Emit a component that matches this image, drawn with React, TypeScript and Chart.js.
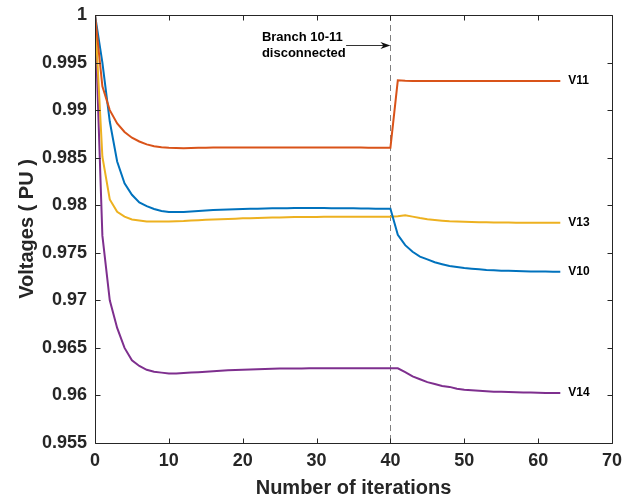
import React, { useEffect, useRef } from "react";
import { Chart, registerables } from "chart.js";

Chart.register(...registerables);

// ---------------- data ----------------
const iterations = [
  0, 1, 2, 3, 4, 5, 6, 7, 8, 9, 10, 11, 12, 13, 14, 15, 16, 17, 18, 19, 20,
  21, 22, 23, 24, 25, 26, 27, 28, 29, 30, 31, 32, 33, 34, 35, 36, 37, 38, 39,
  40, 41, 42, 43, 44, 45, 46, 47, 48, 49, 50, 51, 52, 53, 54, 55, 56, 57, 58,
  59, 60, 61, 62, 63,
];

const v11 = [
  1.0, 0.9925, 0.99, 0.9886, 0.9877, 0.9871, 0.9867, 0.9864, 0.9862, 0.9861,
  0.98605, 0.98602, 0.986, 0.98602, 0.98604, 0.98605, 0.98606, 0.98607, 0.98607,
  0.98608, 0.98608, 0.98608, 0.98608, 0.98608, 0.98608, 0.98608, 0.98608,
  0.98608, 0.98608, 0.98607, 0.98607, 0.98607, 0.98607, 0.98606, 0.98606,
  0.98606, 0.98606, 0.98605, 0.98605, 0.98605, 0.98605, 0.99313, 0.99308,
  0.99307, 0.99307, 0.99307, 0.99307, 0.99307, 0.99307, 0.99307, 0.99307,
  0.99307, 0.99307, 0.99307, 0.99307, 0.99307, 0.99307, 0.99307, 0.99307,
  0.99307, 0.99307, 0.99307, 0.99307, 0.99307,
];

const v10 = [
  1.0, 0.995, 0.9888, 0.9846, 0.9823, 0.9811, 0.9803, 0.9799, 0.9796, 0.9794,
  0.9793, 0.9793, 0.9793, 0.97935, 0.9794, 0.97945, 0.9795, 0.97952, 0.97955,
  0.97958, 0.9796, 0.97962, 0.97964, 0.97966, 0.97967, 0.97968, 0.97969,
  0.9797, 0.9797, 0.9797, 0.9797, 0.9797, 0.97969, 0.97968, 0.97968, 0.97967,
  0.97966, 0.97965, 0.97964, 0.97964, 0.97963, 0.9769, 0.9758, 0.9751,
  0.9746, 0.9743, 0.974, 0.9738, 0.9736, 0.9735, 0.9734, 0.97333, 0.97326,
  0.9732, 0.97316, 0.97312, 0.9731, 0.97308, 0.97306, 0.97304, 0.97303,
  0.97302, 0.97301, 0.97301,
];

const v13 = [
  1.0, 0.9851, 0.9806, 0.9793, 0.9788, 0.9785, 0.9784, 0.9783, 0.9783,
  0.9783, 0.9783, 0.97832, 0.97835, 0.9784, 0.97843, 0.97846, 0.9785,
  0.97853, 0.97856, 0.97859, 0.97862, 0.97864, 0.97866, 0.97868, 0.9787,
  0.97872, 0.97874, 0.97875, 0.97876, 0.97877, 0.97877, 0.97878, 0.97878,
  0.97879, 0.97879, 0.97879, 0.97879, 0.9788, 0.9788, 0.9788, 0.9788,
  0.97885, 0.97895, 0.9788, 0.97865, 0.97852, 0.97844, 0.97837, 0.97831,
  0.97828, 0.97825, 0.97823, 0.97821, 0.9782, 0.97819, 0.97818, 0.97818,
  0.97817, 0.97817, 0.97817, 0.97816, 0.97816, 0.97816, 0.97816,
];

const v14 = [
  1.0, 0.9768, 0.97, 0.9671, 0.965, 0.9637, 0.9631, 0.9627, 0.9625, 0.9624,
  0.9623, 0.9623, 0.96235, 0.9624, 0.96245, 0.9625, 0.96255, 0.9626, 0.96265,
  0.96268, 0.9627, 0.96272, 0.96275, 0.96278, 0.9628, 0.96282, 0.96283,
  0.96284, 0.96284, 0.96285, 0.96285, 0.96285, 0.96286, 0.96286, 0.96286,
  0.96286, 0.96286, 0.96286, 0.96285, 0.96285, 0.96285, 0.96285, 0.96245,
  0.962, 0.9617, 0.9614, 0.9612, 0.961, 0.9609, 0.9607, 0.9606, 0.96055,
  0.9605, 0.96045, 0.9604, 0.96038, 0.96035, 0.96033, 0.96031, 0.9603,
  0.96028, 0.96027, 0.96026, 0.96026,
];

const seriesNames = ["V11", "V10", "V13", "V14"];
const seriesColors = ["#D95319", "#0072BD", "#EDB120", "#7E2F8E"];
const seriesValues = [v11, v10, v13, v14];

const xTicks = [0, 10, 20, 30, 40, 50, 60, 70];
const yTicks = [1, 0.995, 0.99, 0.985, 0.98, 0.975, 0.97, 0.965, 0.96, 0.955];

const disconnectIteration = 40;
const annotationLines = ["Branch 10-11", "disconnected"];
// annotation placement (data units)
const annotationX = 22.6;
const annotationY = [0.99763, 0.99600];
const arrowStartX = 34;
const arrowY = 0.99686;

const FONT = "'Liberation Sans', Arial, Helvetica, sans-serif";
const AXIS_COLOR = "#262626";

const overlayPlugin = {
  id: "overlay",
  beforeDatasetsDraw(chart: any) {
    const { ctx, chartArea, scales } = chart;
    const x = scales.x;
    const px = Math.round(x.getPixelForValue(disconnectIteration)) + 0.5;
    ctx.save();
    ctx.strokeStyle = "#808080";
    ctx.lineWidth = 1;
    ctx.setLineDash([6, 4]);
    ctx.beginPath();
    ctx.moveTo(px, chartArea.top);
    ctx.lineTo(px, chartArea.bottom);
    ctx.stroke();
    ctx.restore();
  },
  afterDraw(chart: any) {
    const { ctx, chartArea, scales } = chart;
    const x = scales.x;
    const y = scales.y;
    const L = Math.round(chartArea.left) + 0.5;
    const R = Math.round(chartArea.right) + 0.5;
    const T = Math.round(chartArea.top) + 0.5;
    const B = Math.round(chartArea.bottom) + 0.5;
    ctx.save();
    ctx.strokeStyle = AXIS_COLOR;
    ctx.lineWidth = 1;
    ctx.setLineDash([]);
    ctx.beginPath();
    ctx.rect(L, T, R - L, B - T);
    ctx.stroke();
    const tl = 5;
    ctx.beginPath();
    xTicks.forEach((t) => {
      const p = Math.round(x.getPixelForValue(t)) + 0.5;
      ctx.moveTo(p, B);
      ctx.lineTo(p, B - tl);
      ctx.moveTo(p, T);
      ctx.lineTo(p, T + tl);
    });
    yTicks.forEach((t) => {
      const p = Math.round(y.getPixelForValue(t)) + 0.5;
      ctx.moveTo(L, p);
      ctx.lineTo(L + tl, p);
      ctx.moveTo(R, p);
      ctx.lineTo(R - tl, p);
    });
    ctx.stroke();

    // series end labels
    ctx.fillStyle = "#000";
    ctx.font = `bold 12px ${FONT}`;
    ctx.textAlign = "left";
    ctx.textBaseline = "middle";
    const lastIt = iterations[iterations.length - 1];
    seriesValues.forEach((vals, i) => {
      const lx = x.getPixelForValue(lastIt) + 8;
      const ly = y.getPixelForValue(vals[vals.length - 1]);
      ctx.fillText(seriesNames[i], lx, ly);
    });

    // annotation text
    ctx.font = `bold 13px ${FONT}`;
    annotationLines.forEach((line, i) => {
      ctx.fillText(line, x.getPixelForValue(annotationX), y.getPixelForValue(annotationY[i]));
    });

    // arrow
    const ax0 = x.getPixelForValue(arrowStartX);
    const ax1 = x.getPixelForValue(disconnectIteration);
    const ay = Math.round(y.getPixelForValue(arrowY)) + 0.5;
    ctx.strokeStyle = "#333";
    ctx.lineWidth = 1;
    ctx.beginPath();
    ctx.moveTo(ax0, ay);
    ctx.lineTo(ax1 - 4, ay);
    ctx.stroke();
    ctx.fillStyle = "#111";
    ctx.beginPath();
    ctx.moveTo(ax1, ay);
    ctx.lineTo(ax1 - 10, ay - 3.5);
    ctx.lineTo(ax1 - 7, ay);
    ctx.lineTo(ax1 - 10, ay + 3.5);
    ctx.closePath();
    ctx.fill();
    ctx.restore();
  },
};

export default function App() {
  const canvasRef = useRef<HTMLCanvasElement | null>(null);

  useEffect(() => {
    document.body.style.margin = "0";
    const canvas = canvasRef.current;
    if (!canvas) return;
    const chart = new Chart(canvas, {
      type: "line",
      data: {
        datasets: seriesValues.map((vals, i) => ({
          label: seriesNames[i],
          data: vals.map((v, k) => ({ x: iterations[k], y: v })),
          borderColor: seriesColors[i],
          backgroundColor: seriesColors[i],
          borderWidth: 2,
          pointRadius: 0,
          tension: 0,
          fill: false,
        })),
      },
      options: {
        animation: false,
        responsive: false,
        devicePixelRatio: 1,
        layout: { padding: { top: 15, right: 24, left: 0, bottom: 0 } },
        plugins: {
          legend: { display: false },
          tooltip: { enabled: false },
        },
        scales: {
          x: {
            type: "linear",
            min: 0,
            max: 70,
            afterFit: (s: any) => {
              s.height = 58;
              s.paddingLeft = 0;
              s.paddingRight = 0;
            },
            afterBuildTicks: (s: any) => {
              s.ticks = xTicks.map((v) => ({ value: v }));
            },
            grid: { display: false, drawTicks: false },
            border: { display: false },
            ticks: {
              padding: 7,
              color: AXIS_COLOR,
              font: { family: FONT, size: 18, weight: "bold" },
              maxRotation: 0,
              autoSkip: false,
            },
            title: {
              display: true,
              text: "Number of iterations",
              color: AXIS_COLOR,
              font: { family: FONT, size: 20, weight: "bold" },
              padding: { top: 0, bottom: 1 },
            },
          },
          y: {
            type: "linear",
            min: 0.955,
            max: 1,
            afterFit: (s: any) => {
              s.width = 95;
              s.paddingTop = 0;
              s.paddingBottom = 0;
            },
            afterBuildTicks: (s: any) => {
              s.ticks = yTicks.map((v) => ({ value: v }));
            },
            grid: { display: false, drawTicks: false },
            border: { display: false },
            ticks: {
              padding: 8,
              color: AXIS_COLOR,
              font: { family: FONT, size: 18, weight: "bold" },
              autoSkip: false,
              callback: (v: any) => String(Number(Number(v).toFixed(3))),
            },
            title: {
              display: true,
              text: "Voltages ( PU )",
              color: AXIS_COLOR,
              font: { family: FONT, size: 20, weight: "bold" },
              padding: { top: 15, bottom: 0 },
            },
          },
        },
      },
      plugins: [overlayPlugin],
    });
    return () => chart.destroy();
  }, []);

  return (
    <div style={{ width: 636, height: 501, background: "#fff" }}>
      <canvas ref={canvasRef} width={636} height={501} />
    </div>
  );
}
